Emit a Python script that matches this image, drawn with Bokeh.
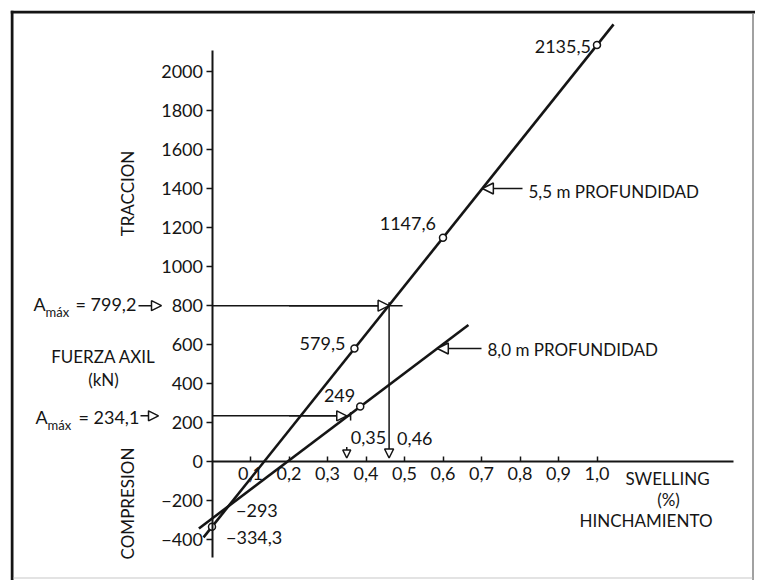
from math import pi
from bokeh.plotting import figure
from bokeh.models import (Range1d, LinearAxis, FixedTicker, CustomJSTickFormatter,
                          Arrow, NormalHead)
from bokeh.core.properties import value
from bokeh.embed import file_html
from bokeh.resources import INLINE

# ---------------- data ----------------
# 5,5 m depth: swelling (%) vs axial force (kN)
d55_swell = [0.0, 0.37, 0.60, 1.00]
d55_force = [-334.3, 579.5, 1147.6, 2135.5]
d55_line_x = [-0.022, 1.043]
d55_line_y = [-389.0, 2241.7]

# 8,0 m depth
d80_swell = [0.385]
d80_force = [282.0]
d80_intercept = -293.0
d80_line_x = [-0.034, 0.666]
d80_line_y = [-343.7, 700.0]

# maximum axial forces and the corresponding swelling
amax_force = [799.2, 234.1]
amax_swell = [0.46, 0.35]

x_ticks = [0.1, 0.2, 0.3, 0.4, 0.5, 0.6, 0.7, 0.8, 0.9, 1.0]
y_ticks = [-400, -200, 0, 200, 400, 600, 800, 1000, 1200, 1400, 1600, 1800, 2000]

# ---------------- layout helpers ----------------
W, H = 755, 580
ML, MT, MR, MB = 10, 10, 0, 0
X0_PX, XS = 211.5, 385.0      # page pixel of swelling 0, px per 1 %
Y0_PX, YS = 461.0, 0.195      # page pixel of force 0, px per kN


def px_x(px):
    return (px - X0_PX) / XS


def px_y(py):
    return (Y0_PX - py) / YS


x_range = Range1d(px_x(ML), px_x(W - MR))
y_range = Range1d(px_y(H - MB), px_y(MT))

FONT = value("Lato")
INK = "#151515"

p = figure(width=W, height=H, x_range=x_range, y_range=y_range,
           x_axis_type=None, y_axis_type=None, output_backend="svg",
           toolbar_location=None, min_border_left=ML, min_border_top=MT,
           min_border_right=MR, min_border_bottom=MB)
p.outline_line_color = None
p.background_fill_color = "white"
p.border_fill_color = "white"

# page frame of the scanned figure: heavy top/left, light right/bottom
p.segment(x0=[px_x(11.5)], y0=[px_y(10)], x1=[px_x(11.5)], y1=[px_y(580)],
          line_width=3, line_color=INK)
p.segment(x0=[px_x(10)], y0=[px_y(11.5)], x1=[px_x(755)], y1=[px_y(11.5)],
          line_width=3, line_color=INK)
p.segment(x0=[px_x(752.5)], y0=[px_y(13)], x1=[px_x(752.5)], y1=[px_y(580)],
          line_width=1.6, line_color="#8a8a8a")
p.segment(x0=[px_x(13)], y0=[px_y(577.5)], x1=[px_x(752)], y1=[px_y(577.5)],
          line_width=1.2, line_color="#c8c8c8")

# ---------------- axes through the origin ----------------
yaxis = LinearAxis(fixed_location=0, ticker=FixedTicker(ticks=y_ticks),
                   formatter=CustomJSTickFormatter(
                       code="return tick < 0 ? '\\u2212' + Math.abs(tick) : String(tick);"),
                   bounds=(px_y(557), px_y(50)))
xaxis = LinearAxis(fixed_location=0, ticker=FixedTicker(ticks=x_ticks),
                   formatter=CustomJSTickFormatter(
                       code="return tick.toFixed(1).replace('.', ',');"),
                   bounds=(0, px_x(733)))
for ax in (yaxis, xaxis):
    ax.axis_line_color = INK
    ax.axis_line_width = 2
    ax.major_tick_line_color = INK
    ax.major_tick_line_width = 1.5
    ax.minor_tick_in = 0
    ax.minor_tick_out = 0
    ax.major_label_text_font = "Lato"
    ax.major_label_text_font_size = "18px"
    ax.major_label_text_color = INK
yaxis.major_tick_out = 6
yaxis.major_tick_in = 0
yaxis.major_label_standoff = 3
xaxis.major_tick_out = 0
xaxis.major_tick_in = 5
xaxis.major_label_standoff = 5
p.add_layout(yaxis, "left")
p.add_layout(xaxis, "below")

# ---------------- the two lines ----------------
p.line(d55_line_x, d55_line_y, line_width=2.6, line_color=INK)
p.line(d80_line_x, d80_line_y, line_width=2.6, line_color=INK)
p.scatter(d55_swell, d55_force, marker="circle", size=7, fill_color="white",
          line_color=INK, line_width=1.5)
p.scatter(d80_swell, d80_force, marker="circle", size=7, fill_color="white",
          line_color=INK, line_width=1.5)

# ---------------- A max guides ----------------
p.segment(x0=[0, 0], y0=amax_force, x1=[0.495, 0.36], y1=amax_force,
          line_width=1.5, line_color=INK)
p.segment(x0=[0.36], y0=[amax_force[1] - 24], x1=[0.36], y1=[amax_force[1] + 19],
          line_width=1.5, line_color=INK)


def head(size=10):
    return NormalHead(size=size, fill_color="white", line_color=INK, line_width=1.5)


p.add_layout(Arrow(end=head(11), x_start=0.2, y_start=amax_force[0],
                   x_end=amax_swell[0], y_end=amax_force[0],
                   line_color=INK, line_width=1.5))
p.add_layout(Arrow(end=head(10), x_start=0.2, y_start=amax_force[1],
                   x_end=amax_swell[1], y_end=amax_force[1],
                   line_color=INK, line_width=1.5))
# vertical drop to 0,46 and arrow at 0,35
p.add_layout(Arrow(end=head(9), x_start=amax_swell[0], y_start=amax_force[0] + 18,
                   x_end=amax_swell[0], y_end=18, line_color=INK, line_width=1.5))
p.add_layout(Arrow(end=head(8), x_start=amax_swell[1], y_start=75,
                   x_end=amax_swell[1], y_end=18, line_color=INK, line_width=1.5))

# arrows beside the A max labels
for f, x_a, x_b in [(amax_force[0], 138, 161), (amax_force[1], 140, 158)]:
    p.add_layout(Arrow(end=head(10), x_start=px_x(x_a), y_start=f,
                       x_end=px_x(x_b), y_end=f, line_color=INK, line_width=1.5))

# callouts for the depth labels
call55_y = 1400.0
call55_x = (call55_y - d55_force[0]) / ((d55_force[3] - d55_force[0]) / d55_swell[3])
p.add_layout(Arrow(end=head(11), x_start=px_x(522), y_start=call55_y,
                   x_end=call55_x, y_end=call55_y, line_color=INK, line_width=1.5))
call80_y = 579.5
call80_x = (call80_y - d80_line_y[0]) / ((d80_line_y[1] - d80_line_y[0]) /
                                          (d80_line_x[1] - d80_line_x[0])) + d80_line_x[0]
p.add_layout(Arrow(end=head(11), x_start=px_x(481), y_start=call80_y,
                   x_end=call80_x, y_end=call80_y, line_color=INK, line_width=1.5))


# ---------------- texts ----------------
def txt(x, y, s, size="18px", align="left", base="middle", xo=0, yo=0, angle=0.0):
    p.text(x=[x], y=[y], text=[s], text_font=FONT, text_font_size=value(size),
           text_align=align, text_baseline=base, x_offset=xo, y_offset=yo,
           angle=angle, text_color=INK)


# point value labels
txt(d55_swell[3], d55_force[3], "2135,5", align="right", xo=-6, yo=1)
txt(d55_swell[2], d55_force[2], "1147,6", align="right", xo=-7, yo=-14)
txt(d55_swell[1], d55_force[1], "579,5", align="right", xo=-9, yo=-5)
txt(d55_swell[0], d55_force[0], "\u2212334,3", align="left", xo=14, yo=11)
txt(d80_swell[0], d80_force[0], "249", align="right", xo=-5, yo=-11)
txt(0, d80_intercept, "\u2212293", align="left", xo=24, yo=-8)
txt(amax_swell[1], 0, "0,35", align="left", xo=4, yo=-24)
txt(amax_swell[0], 0, "0,46", align="left", xo=8, yo=-23)

# depth callout texts
txt(px_x(528), call55_y, "5,5 m PROFUNDIDAD", size="17px", yo=3)
txt(px_x(487), call80_y, "8,0 m PROFUNDIDAD", size="17px", yo=1)

# A max labels
for f, xa, xs, xe, dy in [(amax_force[0], 33, 45, 75, -2), (amax_force[1], 35, 47, 78, 1.5)]:
    txt(px_x(xa), f, "A", yo=dy)
    txt(px_x(xs), f, "máx", size="13px", yo=dy + 8)
    txt(px_x(xe), f, "= " + f"{f:.1f}".replace(".", ","), yo=dy)

# axis titles
txt(px_x(127), px_y(193), "TRACCION", size="17px", align="center", angle=pi / 2)
txt(px_x(127), px_y(503), "COMPRESION", size="17px", align="center", angle=pi / 2)
txt(px_x(103), px_y(356), "FUERZA AXIL", size="17px", align="center")
txt(px_x(103), px_y(379), "(kN)", size="17px", align="center")
txt(px_x(667), px_y(478), "SWELLING", size="17px", align="center")
txt(px_x(668), px_y(499), "(%)", size="17px", align="center")
txt(px_x(712), px_y(520), "HINCHAMIENTO", size="17px", align="right")

open("out.html", "w").write(file_html(p, INLINE))
